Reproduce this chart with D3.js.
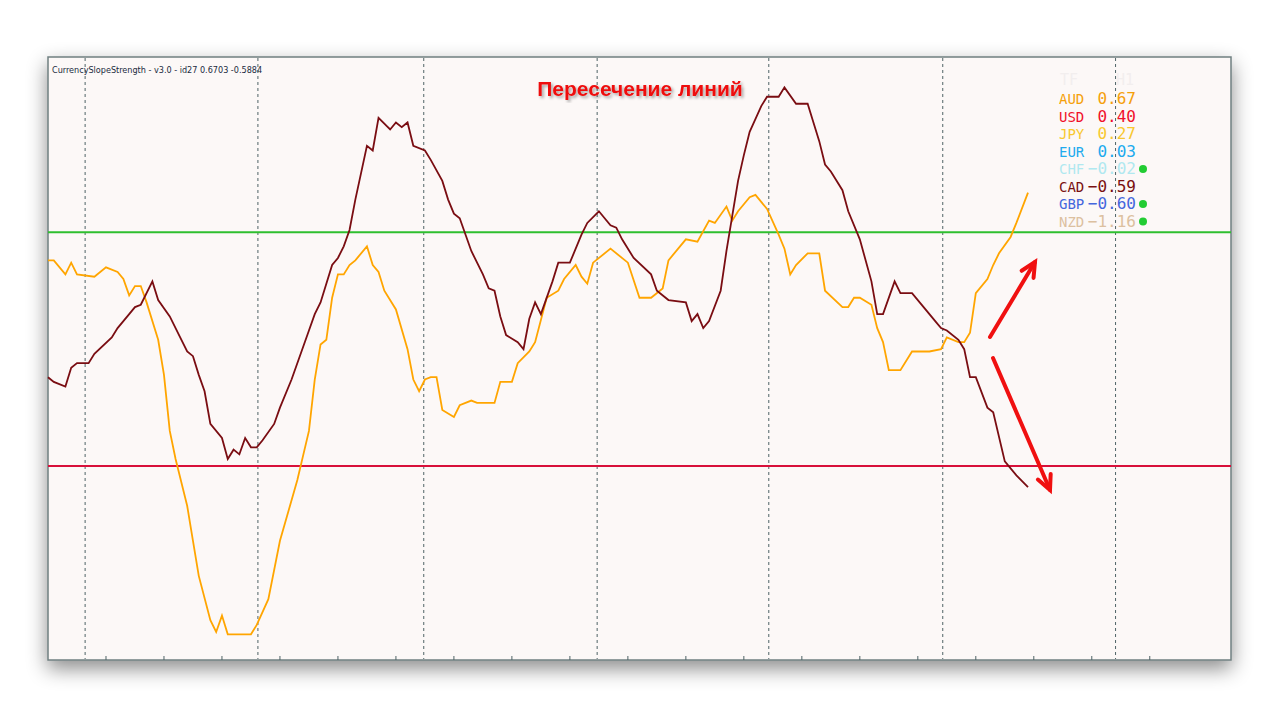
<!DOCTYPE html>
<html>
<head>
<meta charset="utf-8">
<script src="https://cdn.jsdelivr.net/npm/d3@7/dist/d3.min.js"></script>
<style>
  body { margin: 0; background: #fff; }
</style>
</head>
<body>
<div id="chart"></div>
<script>
const width = 1280, height = 720;

// AUD (orange) : [bar, value]
const audSeries = [[0,0.38],[1,0.38],[3,0.32],[4,0.37],[5,0.32],[8,0.31],[10,0.35],[12,0.33],[13,0.30],[14,0.23],[15,0.27],[16,0.27],[17,0.20],[19,0.04],[20,-0.11],[21,-0.35],[22,-0.47],[24,-0.67],[25,-0.82],[26,-0.97],[28,-1.16],[29,-1.21],[30,-1.14],[31,-1.22],[35,-1.22],[36,-1.18],[38,-1.07],[40,-0.82],[43,-0.56],[45,-0.35],[46,-0.13],[47,0.02],[48,0.04],[49,0.22],[50,0.32],[51,0.32],[52,0.36],[53,0.38],[55,0.44],[56,0.36],[57,0.33],[58,0.25],[60,0.17],[62,0.00],[63,-0.13],[64,-0.18],[65,-0.13],[66,-0.12],[67,-0.12],[68,-0.26],[70,-0.29],[71,-0.24],[73,-0.22],[74,-0.23],[77,-0.23],[78,-0.14],[80,-0.14],[81,-0.06],[83,-0.01],[84,0.03],[86,0.22],[88,0.25],[89,0.30],[91,0.36],[92,0.31],[93,0.28],[94,0.37],[97,0.43],[100,0.37],[102,0.22],[104,0.22],[106,0.26],[107,0.38],[110,0.47],[112,0.46],[114,0.55],[115,0.54],[117,0.61],[118,0.55],[119,0.59],[121,0.65],[122,0.66],[124,0.60],[126,0.49],[127,0.43],[128,0.32],[129,0.36],[131,0.41],[133,0.41],[134,0.25],[137,0.18],[138,0.18],[139,0.22],[140,0.22],[142,0.19],[143,0.09],[144,0.03],[145,-0.09],[147,-0.09],[149,-0.01],[152,-0.01],[154,0.00],[155,0.05],[157,0.03],[158,0.03],[159,0.07],[160,0.24],[162,0.30],[163,0.36],[164,0.41],[166,0.48],[167,0.54],[169,0.67]];

// CAD (dark red) : [bar, value]
const cadSeries = [[0,-0.12],[1,-0.14],[3,-0.16],[4,-0.08],[5,-0.06],[7,-0.06],[8,-0.02],[11,0.05],[12,0.09],[14,0.15],[15,0.18],[16,0.19],[18,0.29],[19,0.21],[21,0.14],[22,0.09],[24,-0.01],[25,-0.03],[26,-0.11],[27,-0.18],[28,-0.32],[30,-0.38],[31,-0.47],[32,-0.43],[33,-0.45],[34,-0.38],[35,-0.42],[36,-0.42],[37,-0.39],[39,-0.32],[40,-0.25],[42,-0.13],[45,0.08],[46,0.15],[47,0.20],[49,0.36],[50,0.39],[51,0.44],[52,0.51],[53,0.64],[55,0.87],[56,0.85],[57,0.99],[59,0.94],[60,0.97],[61,0.95],[62,0.97],[63,0.87],[65,0.85],[66,0.81],[68,0.72],[69,0.64],[70,0.58],[71,0.56],[73,0.42],[75,0.32],[76,0.26],[77,0.25],[78,0.14],[79,0.06],[81,0.03],[82,0.00],[83,0.13],[84,0.20],[85,0.15],[87,0.29],[88,0.37],[90,0.37],[92,0.49],[93,0.54],[95,0.59],[97,0.53],[98,0.52],[99,0.47],[101,0.39],[104,0.32],[105,0.25],[107,0.21],[110,0.20],[111,0.12],[112,0.15],[113,0.09],[114,0.12],[116,0.25],[117,0.42],[118,0.57],[119,0.72],[120,0.83],[121,0.93],[123,1.04],[124,1.08],[126,1.08],[127,1.12],[129,1.05],[131,1.05],[132,0.97],[133,0.89],[134,0.79],[135,0.76],[137,0.68],[138,0.59],[140,0.47],[142,0.29],[143,0.15],[144,0.15],[146,0.29],[147,0.24],[149,0.24],[151,0.18],[153,0.12],[154,0.09],[155,0.08],[157,0.04],[158,0.00],[159,-0.12],[160,-0.12],[162,-0.25],[163,-0.27],[165,-0.48],[167,-0.54],[169,-0.59]];

const levels = [{v: 0.5, c: "#2fbf2f"}, {v: -0.5, c: "#d8103a"}];
const daySeparators = [6.4, 36.2, 64.8, 94.7, 124.3, 154.3, 184.1];
const tickBars = d3.range(10, 200, 10);

const currencies = ["AUD", "USD", "JPY", "EUR", "CHF", "CAD", "GBP", "NZD"];
const strengths = ["0.67", "0.40", "0.27", "0.03", "-0.02", "-0.59", "-0.60", "-1.16"];
const legendColors = ["#f5a00a", "#f0102a", "#f8c830", "#20aaee", "#b0e8f0", "#7a1010", "#4466dd", "#dcc0a0"];
const dots = [false, false, false, false, true, false, true, true];

const plot = {left: 48, right: 1231, top: 57, bottom: 660};

const x = d3.scaleLinear().domain([0, 169]).range([plot.left, 1028]);
const y = d3.scaleLinear().domain([-1.33, 1.25]).range([plot.bottom, plot.top]);

const svg = d3.create("svg").attr("width", width).attr("height", height);

const defs = svg.append("defs");
const f = defs.append("filter").attr("id", "shadow").attr("x", "-10%").attr("y", "-10%").attr("width", "120%").attr("height", "125%");
f.append("feDropShadow").attr("dx", 0).attr("dy", 8).attr("stdDeviation", 10).attr("flood-color", "#000").attr("flood-opacity", 0.45);
const ts = defs.append("filter").attr("id", "tshadow");
ts.append("feDropShadow").attr("dx", 2).attr("dy", 2).attr("stdDeviation", 1.5).attr("flood-color", "#000").attr("flood-opacity", 0.35);

// panneau
svg.append("rect")
    .attr("x", plot.left).attr("y", plot.top)
    .attr("width", plot.right - plot.left).attr("height", plot.bottom - plot.top)
    .attr("fill", "#fcf8f7").attr("stroke", "#6f7f80").attr("stroke-width", 1.5)
    .attr("filter", "url(#shadow)");

const g = svg.append("g");

// séparateurs de jours
g.selectAll("line.sep").data(daySeparators).join("line")
    .attr("x1", d => x(d)).attr("x2", d => x(d))
    .attr("y1", plot.top + 1).attr("y2", plot.bottom - 1)
    .attr("stroke", "#4f6366").attr("stroke-width", 1).attr("stroke-dasharray", "3,3");

// graduations du bas
g.selectAll("line.tick").data(tickBars.filter(d => x(d) < plot.right)).join("line")
    .attr("x1", d => x(d)).attr("x2", d => x(d))
    .attr("y1", plot.bottom).attr("y2", plot.bottom - 4)
    .attr("stroke", "#4f6366");

// niveaux
g.selectAll("line.lvl").data(levels).join("line")
    .attr("x1", plot.left).attr("x2", plot.right)
    .attr("y1", d => y(d.v)).attr("y2", d => y(d.v))
    .attr("stroke", d => d.c).attr("stroke-width", 2);

const line = d3.line().x(d => x(d[0])).y(d => y(d[1]));

g.append("path").datum(audSeries).attr("d", line)
    .attr("fill", "none").attr("stroke", "#ffa500").attr("stroke-width", 1.8);
g.append("path").datum(cadSeries).attr("d", line)
    .attr("fill", "none").attr("stroke", "#7a0d12").attr("stroke-width", 1.8);

// titre de l'indicateur
svg.append("text").attr("x", 52).attr("y", 73)
    .attr("font-family", "DejaVu Sans Condensed, sans-serif").attr("font-size", 9)
    .attr("fill", "#1a2a40")
    .text("CurrencySlopeStrength - v3.0 - id27 0.6703 -0.5884");

svg.append("text").attr("x", 640).attr("y", 96).attr("text-anchor", "middle")
    .attr("font-family", "Liberation Sans, Arial, sans-serif").attr("font-weight", "bold")
    .attr("font-size", 21).attr("fill", "#ee1111").attr("filter", "url(#tshadow)")
    .text("Пересечение линий");

// légende
const lg = svg.append("g").attr("font-family", "DejaVu Sans Mono, monospace").attr("font-size", 15);
lg.append("text").attr("x", 1060).attr("y", 85).attr("fill", "#f2eeee").text("TF");
lg.append("text").attr("x", 1116).attr("y", 85).attr("fill", "#f2eeee").text("H1");
currencies.forEach((c, i) => {
  const yy = 104 + i * 17.5;
  lg.append("text").attr("x", 1059).attr("y", yy).attr("fill", legendColors[i])
      .attr("font-size", 14).text(c);
  lg.append("text").attr("x", 1136).attr("y", yy).attr("text-anchor", "end")
      .attr("fill", legendColors[i]).attr("font-size", 16).text(strengths[i].replace("-", "−"));
  if (dots[i]) lg.append("circle").attr("cx", 1143).attr("cy", yy - 5).attr("r", 4).attr("fill", "#22cc33");
});

// flèches
const arrows = [[990, 337, 1035, 262], [993, 358, 1050, 490]];
arrows.forEach(([x1, y1, x2, y2]) => {
  svg.append("line").attr("x1", x1).attr("y1", y1).attr("x2", x2).attr("y2", y2)
      .attr("stroke", "#f01010").attr("stroke-width", 4).attr("stroke-linecap", "round");
  const a = Math.atan2(y2 - y1, x2 - x1);
  const L = 16, w = 0.45;
  const p1 = [x2 - L * Math.cos(a - w), y2 - L * Math.sin(a - w)];
  const p2 = [x2 - L * Math.cos(a + w), y2 - L * Math.sin(a + w)];
  svg.append("path").attr("d", `M${p1}L${x2},${y2}L${p2}`)
      .attr("fill", "none").attr("stroke", "#f01010").attr("stroke-width", 4)
      .attr("stroke-linecap", "round").attr("stroke-linejoin", "miter");
});

document.getElementById("chart").appendChild(svg.node());
</script>
</body>
</html>
